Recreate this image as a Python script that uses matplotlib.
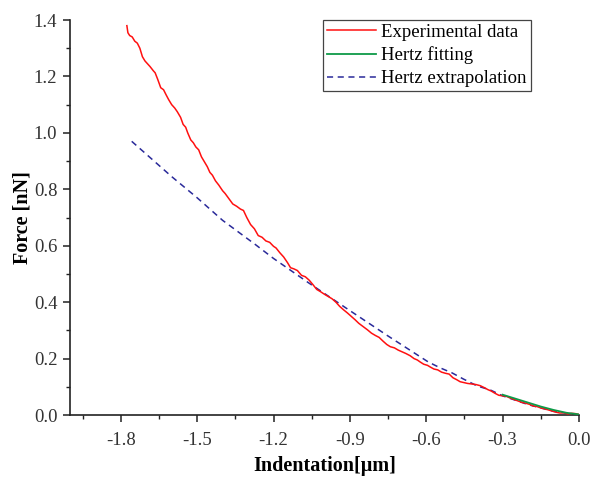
import matplotlib
matplotlib.use("Agg")
import matplotlib.pyplot as plt
from matplotlib.ticker import MultipleLocator, FixedLocator

plt.rcParams['font.family'] = ['Liberation Serif', 'DejaVu Serif']

exp_x = [-1.776, -1.772, -1.765, -1.755, -1.745, -1.735, -1.725, -1.715, -1.705, -1.695,
         -1.685, -1.672, -1.665, -1.655, -1.643, -1.632, -1.622, -1.612, -1.600, -1.588,
         -1.578, -1.565, -1.555, -1.545, -1.537, -1.525, -1.515, -1.505, -1.494, -1.483,
         -1.470, -1.460, -1.450, -1.440, -1.428, -1.415, -1.400, -1.390, -1.373, -1.360,
         -1.345, -1.330, -1.318, -1.305, -1.290, -1.275, -1.260, -1.245, -1.230, -1.215,
         -1.200, -1.190, -1.175, -1.160, -1.145, -1.133, -1.120, -1.106, -1.090, -1.075,
         -1.060, -1.045, -1.030, -1.015, -1.000, -0.985, -0.970, -0.955, -0.940, -0.925,
         -0.910, -0.895, -0.880, -0.865, -0.850, -0.831, -0.815, -0.800, -0.785, -0.770,
         -0.755, -0.741, -0.725, -0.710, -0.695, -0.680, -0.663, -0.648, -0.635, -0.624,
         -0.610, -0.595, -0.584, -0.570, -0.555, -0.540, -0.525, -0.510, -0.495, -0.480,
         -0.467, -0.452, -0.438, -0.420, -0.405, -0.388, -0.372, -0.358, -0.345, -0.330,
         -0.315, -0.300, -0.285, -0.270, -0.255, -0.240, -0.225, -0.210, -0.195, -0.180,
         -0.165, -0.150, -0.135, -0.120, -0.105, -0.090, -0.075, -0.060, -0.045, -0.030,
         -0.015, 0.000]
exp_y = [1.380, 1.355, 1.345, 1.340, 1.325, 1.318, 1.300, 1.270, 1.255, 1.245,
         1.235, 1.220, 1.213, 1.190, 1.160, 1.153, 1.135, 1.118, 1.100, 1.088,
         1.075, 1.055, 1.030, 1.020, 1.000, 0.975, 0.965, 0.950, 0.940, 0.915,
         0.895, 0.880, 0.860, 0.850, 0.830, 0.815, 0.795, 0.785, 0.764, 0.748,
         0.740, 0.730, 0.725, 0.700, 0.675, 0.660, 0.636, 0.630, 0.617, 0.612,
         0.598, 0.592, 0.575, 0.560, 0.540, 0.522, 0.518, 0.512, 0.495, 0.490,
         0.478, 0.462, 0.445, 0.437, 0.428, 0.420, 0.412, 0.400, 0.385, 0.373,
         0.362, 0.350, 0.338, 0.325, 0.315, 0.302, 0.290, 0.282, 0.275, 0.262,
         0.250, 0.242, 0.238, 0.230, 0.224, 0.218, 0.210, 0.200, 0.195, 0.188,
         0.180, 0.176, 0.170, 0.163, 0.160, 0.152, 0.148, 0.145, 0.132, 0.125,
         0.118, 0.115, 0.112, 0.110, 0.108, 0.104, 0.097, 0.090, 0.085, 0.077,
         0.070, 0.068, 0.066, 0.060, 0.055, 0.050, 0.045, 0.042, 0.038, 0.032,
         0.030, 0.025, 0.022, 0.018, 0.014, 0.010, 0.007, 0.008, 0.004, 0.006,
         0.005, 0.002]

fit_x = [-0.30, -0.25, -0.20, -0.15, -0.10, -0.05, 0.00]
fit_y = [0.072, 0.058, 0.044, 0.030, 0.018, 0.008, 0.002]

extra_x = [-1.757, -1.6, -1.5, -1.4, -1.271, -1.2, -1.063, -0.9, -0.75, -0.592,
           -0.545, -0.498, -0.455, -0.40, -0.349, -0.30, -0.20, -0.10, 0.0]
extra_y = [0.970, 0.845, 0.770, 0.690, 0.604, 0.555, 0.469, 0.370, 0.280, 0.188,
           0.167, 0.149, 0.128, 0.103, 0.089, 0.068, 0.037, 0.013, 0.0]

x_ticks = [-1.8, -1.5, -1.2, -0.9, -0.6, -0.3, 0.0]
x_tick_labels = ['-1.8', '-1.5', '-1.2', '-0.9', '-0.6', '-0.3', '0.0']
y_ticks = [0.0, 0.2, 0.4, 0.6, 0.8, 1.0, 1.2, 1.4]

fig = plt.figure(figsize=(5.92, 4.79), dpi=100)
ax = fig.add_axes([0.118, 0.1336, 0.860, 0.8246])

ax.plot(exp_x, exp_y, color='#ff1010', lw=1.1, label='Experimental data', zorder=3)
ax.plot(fit_x, fit_y, color='#0e9a48', lw=1.3, label='Hertz fitting', zorder=4)
ax.plot(extra_x, extra_y, color='#2a2a9a', lw=1.1, ls=(0, (4, 3)), label='Hertz extrapolation', zorder=2)

ax.set_xlim(-2.0, 0.0)
ax.set_ylim(0.0, 1.4)
ax.xaxis.set_major_locator(FixedLocator(x_ticks))
ax.set_xticklabels(x_tick_labels)
ax.xaxis.set_minor_locator(FixedLocator([-1.95, -1.65, -1.35, -1.05, -0.75, -0.45, -0.15]))
ax.set_yticks(y_ticks)
ax.set_yticklabels([f'{v:.1f}' for v in y_ticks])
ax.yaxis.set_minor_locator(MultipleLocator(0.1))

for s in ['top', 'right']:
    ax.spines[s].set_visible(False)
for s in ['left', 'bottom']:
    ax.spines[s].set_linewidth(1.2)
    ax.spines[s].set_color('#222222')

ax.tick_params(which='major', direction='out', length=5, width=1.1, labelsize=13.5, pad=7, colors='#222222')
ax.tick_params(which='minor', direction='out', length=3, width=1.0, colors='#222222')
ax.tick_params(axis='y', which='major', pad=4)
for lab in ax.get_xticklabels() + ax.get_yticklabels():
    lab.set_color('#333333')

ax.set_xlabel('Indentation[μm]', fontsize=14.5, fontweight='bold', labelpad=5)
ax.set_ylabel('Force [nN]', fontsize=14.5, fontweight='bold', labelpad=1)

leg = ax.legend(loc='upper right', bbox_to_anchor=(0.905, 1.0), fontsize=13.5, frameon=True,
                fancybox=False, edgecolor='#444444', framealpha=1, borderpad=0.2,
                handlelength=2.6, handletextpad=0.3, labelspacing=0.3, borderaxespad=0.0)
leg.get_frame().set_linewidth(0.9)

fig.savefig('out.png', dpi=100)
